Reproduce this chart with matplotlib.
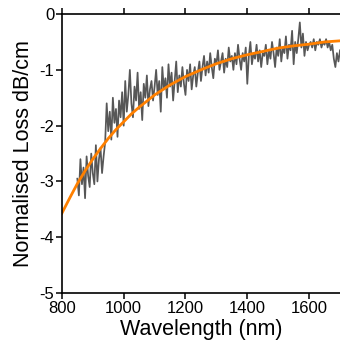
import matplotlib.pyplot as plt
import numpy as np

plt.rcParams['font.family'] = ['Liberation Sans', 'DejaVu Sans']
plt.rcParams['axes.unicode_minus'] = False

# measured loss, one value every 5 nm from 850 to 1700 nm
wl_start, wl_step = 850, 5
loss = [
    -2.95, -3.25, -2.6, -3.05, -2.75, -3.3, -2.55, -2.9, -3.1, -2.5,
    -2.85, -3.05, -2.35, -3.0, -2.6, -2.4, -2.85, -2.55, -2.3,
    -1.6, -2.1, -1.75, -2.25, -1.5, -1.95, -1.7, -2.2, -1.55, -1.85, -1.4, -2.0,
    -1.2, -1.75, -1.45, -1.0, -1.6, -1.85, -1.3, -1.55, -1.05, -1.7,
    -1.4, -1.9, -1.25, -1.5, -1.1, -1.65, -1.35, -1.2, -1.55, -1.3,
    -1.0, -1.45, -1.2, -1.75, -0.95, -1.35, -1.15, -1.5, -0.9, -1.3,
    -1.05, -1.55, -1.2, -0.85, -1.4, -1.1, -1.3, -0.95, -1.25, -1.45,
    -1.0, -1.2, -0.9, -1.35, -1.1, -0.95, -1.3, -1.05, -0.85, -1.2,
    -0.95, -0.75, -1.1, -0.85, -1.05, -0.7, -0.95, -1.15, -0.8, -0.9,
    -0.65, -1.0, -0.85, -0.7, -1.05, -0.8, -0.95, -0.6, -0.85, -0.75,
    -1.0, -0.7, -0.9, -0.55, -0.8, -1.0, -0.7, -0.85, -0.6, -1.25,
    -0.75, -0.5, -0.9, -0.7, -0.8, -0.55, -0.85, -0.65, -0.95, -0.7,
    -0.75, -0.55, -0.9, -0.65, -0.8, -0.5, -0.7, -0.95, -0.6, -0.75,
    -0.45, -0.85, -0.6, -0.7, -0.4, -0.8, -0.55, -0.65, -0.3, -0.9,
    -0.5, -0.7, -0.45, -0.15, -0.6, -0.35, -0.75, -0.5, -0.65, -0.55,
    -0.5, -0.6, -0.45, -0.65, -0.5, -0.55, -0.45, -0.6, -0.5, -0.55,
    -0.45, -0.6, -0.5, -0.65, -0.55, -0.8, -0.95, -0.7, -0.85, -0.65,
]
wl = wl_start + wl_step * np.arange(len(loss))

# fitted curve
fit_wl = [800, 825, 850, 875, 900, 925, 950, 975, 1000, 1025, 1050, 1075, 1100,
          1150, 1200, 1250, 1300, 1350, 1400, 1450, 1500, 1550, 1600, 1650, 1700]
fit_loss = [-3.57, -3.30, -3.04, -2.81, -2.60, -2.41, -2.23, -2.07, -1.93, -1.79,
            -1.67, -1.56, -1.45, -1.27, -1.12, -1.00, -0.89, -0.80, -0.73, -0.67,
            -0.61, -0.57, -0.54, -0.50, -0.48]

fig = plt.figure(figsize=(3.4, 3.51), dpi=100)
ax = fig.add_axes([0.182, 0.165, 0.818, 0.795])

ax.plot(wl, loss, color='#575757', lw=1.25)
ax.plot(fit_wl, fit_loss, color='#ff8000', lw=2.0)

ax.set_xlim(800, 1700)
ax.set_ylim(-5, 0)
ax.set_xticks([800, 1000, 1200, 1400, 1600])
ax.set_yticks([0, -1, -2, -3, -4, -5])
ax.set_yticklabels(['0', '-1', '-2', '-3', '-4', '-5'])

ax.spines['right'].set_visible(False)
for s in ['left', 'bottom', 'top']:
    ax.spines[s].set_linewidth(1.2)
ax.tick_params(direction='out', length=4, width=1.1, labelsize=12, pad=1.5,
               top=True, labeltop=False)

ax.set_xlabel('Wavelength (nm)', fontsize=15.5, labelpad=2)
ax.set_ylabel('Normalised Loss dB/cm', fontsize=15.5, labelpad=4)

fig.savefig('out.png', dpi=100)
